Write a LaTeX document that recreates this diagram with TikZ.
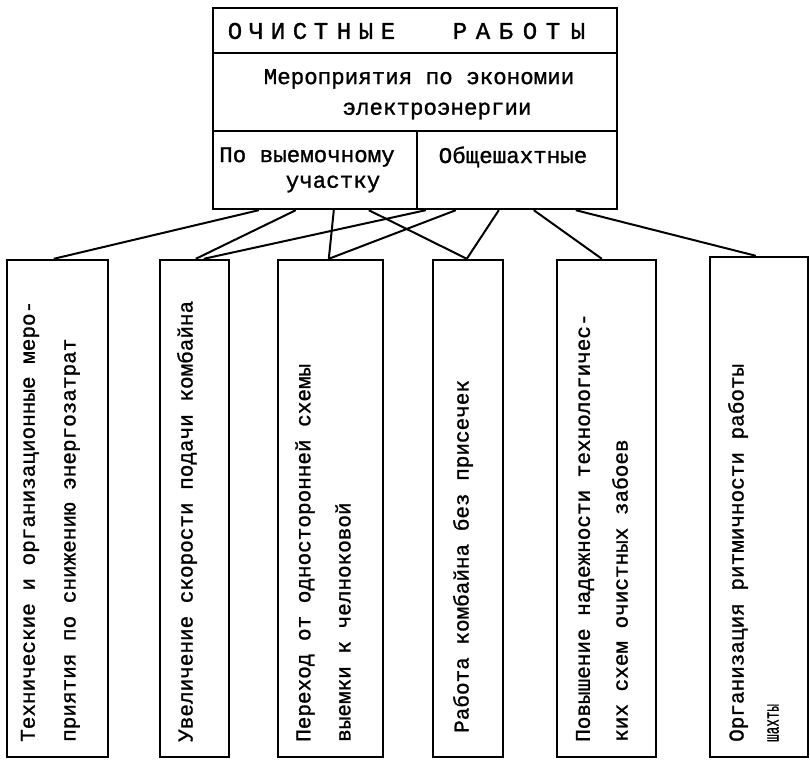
\documentclass[tikz,border=0pt]{standalone}
\usepackage{graphicx}
\usepackage{fontspec}
\newfontfamily\twfont{Liberation Mono}[FakeBold=1.2]
\usetikzlibrary{fit}
\tikzset{
  cell/.style={draw, line width=2.4bp, inner sep=0pt},
  conn/.style={line width=2bp},
  txt/.style={inner sep=0pt, font=\twfont\fontsize{22.5bp}{26bp}\selectfont},
  vtxt/.style={inner sep=0pt, rotate=90, anchor=west, font=\twfont\fontsize{21bp}{24bp}\selectfont},
  ttl/.style={inner sep=0pt, font=\twfont\fontsize{24bp}{28bp}\selectfont},
}
\begin{document}
\begin{tikzpicture}[x=1bp,y=-1bp]
\useasboundingbox (0,0) rectangle (810,762);
% top block
\node[cell, fit={(213,8)(617,53)}] (T) {};
\node[cell, fit={(213,53)(617,131)}] (M) {};
\node[cell, fit={(213,131)(417,209)}] (L) {};
\node[cell, fit={(417,131)(617,209)}] (R) {};
\foreach \l/\x [count=\i] in {О/235,Ч/256,И/278,С/300,Т/321,Н/344,Ы/366,Е/388,Р/460,А/483,Б/506,О/530,Т/553,Ы/578}
  \node[ttl] (tl\i) at (\x,31) {\l};
\node[txt] (m1) at (419,79) {Мероприятия по экономии};
\node[txt] (m2) at (437,111) {электроэнергии};
\node[txt] (l1) at (307,157) {По выемочному};
\node[txt] (l2) at (333,184) {участку};
\node[txt] (r1) at (513,157) {Общешахтные};
% bottom boxes
\node[cell, fit={(7,260)(108,757)}] (B1) {};
\node[cell, fit={(160,260)(229,757)}] (B2) {};
\node[cell, fit={(278,260)(383,757)}] (B3) {};
\node[cell, fit={(433,260)(503,757)}] (B4) {};
\node[cell, fit={(557,260)(656,757)}] (B5) {};
\node[cell, fit={(710,257)(808,757)}] (B6) {};
% vertical texts
\node[vtxt] (b1a) at (30,742) {Технические и организационные меро-};
\node[vtxt] (b1b) at (72,742) {приятия по снижению энергозатрат};
\node[vtxt] (b2a) at (187,742) {Увеличение скорости подачи комбайна};
\node[vtxt] (b3a) at (305,742) {Переход от односторонней схемы};
\node[vtxt] (b3b) at (343,742) {выемки к челноковой};
\node[vtxt] (b4a) at (463,733) {Работа комбайна без присечек};
\node[vtxt] (b5a) at (585,742) {Повышение надежности технологичес-};
\node[vtxt] (b5b) at (620,742) {ких схем очистных забоев};
\node[vtxt] (b6a) at (738,742) {Организация ритмичности работы};
\node[vtxt] (b6b) at (773,742) {\scalebox{0.6}[1]{шахты}};
% connectors
\draw[conn] ([xshift=47bp]L.south west) -- ([xshift=48bp]B1.north west);
\draw[conn] ([xshift=84bp]L.south west) -- ([xshift=37bp]B2.north west);
\draw[conn] ([xshift=122bp]L.south west) -- ([xshift=52bp]B3.north west);
\draw[conn] ([xshift=157bp]L.south west) -- ([xshift=35bp]B4.north west);
\draw[conn] ([xshift=10bp]R.south west) -- ([xshift=45bp]B2.north west);
\draw[conn] ([xshift=40bp]R.south west) -- ([xshift=52bp]B3.north west);
\draw[conn] ([xshift=83bp]R.south west) -- ([xshift=35bp]B4.north west);
\draw[conn] ([xshift=118bp]R.south west) -- ([xshift=46bp]B5.north west);
\draw[conn] ([xshift=160bp]R.south west) -- ([xshift=47bp]B6.north west);
\end{tikzpicture}
\end{document}
